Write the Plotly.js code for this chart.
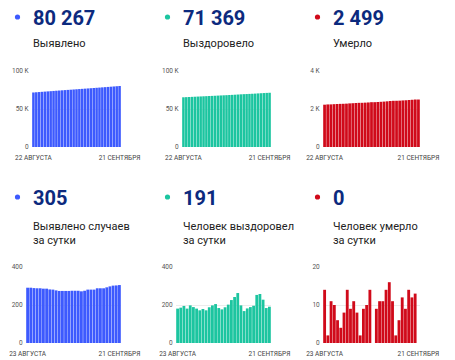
<!DOCTYPE html>
<html>
<head>
<meta charset="utf-8">
<script src="https://cdn.plot.ly/plotly-3.0.1.min.js"></script>
<style>html,body{margin:0;padding:0;background:#fff;}#chart{width:455px;height:360px;}</style>
</head>
<body>
<div id="chart"></div>
<script>
// ---- data ----
var datesTop = ["22 АВГУСТА","23 АВГУСТА","24 АВГУСТА","25 АВГУСТА","26 АВГУСТА","27 АВГУСТА","28 АВГУСТА","29 АВГУСТА","30 АВГУСТА","31 АВГУСТА",
  "1 СЕНТЯБРЯ","2 СЕНТЯБРЯ","3 СЕНТЯБРЯ","4 СЕНТЯБРЯ","5 СЕНТЯБРЯ","6 СЕНТЯБРЯ","7 СЕНТЯБРЯ","8 СЕНТЯБРЯ","9 СЕНТЯБРЯ","10 СЕНТЯБРЯ",
  "11 СЕНТЯБРЯ","12 СЕНТЯБРЯ","13 СЕНТЯБРЯ","14 СЕНТЯБРЯ","15 СЕНТЯБРЯ","16 СЕНТЯБРЯ","17 СЕНТЯБРЯ","18 СЕНТЯБРЯ","19 СЕНТЯБРЯ","20 СЕНТЯБРЯ","21 СЕНТЯБРЯ"];
var datesBottom = ["23 АВГУСТА","24 АВГУСТА","25 АВГУСТА","26 АВГУСТА","27 АВГУСТА","28 АВГУСТА","29 АВГУСТА","30 АВГУСТА","31 АВГУСТА",
  "1 СЕНТЯБРЯ","2 СЕНТЯБРЯ","3 СЕНТЯБРЯ","4 СЕНТЯБРЯ","5 СЕНТЯБРЯ","6 СЕНТЯБРЯ","7 СЕНТЯБРЯ","8 СЕНТЯБРЯ","9 СЕНТЯБРЯ","10 СЕНТЯБРЯ",
  "11 СЕНТЯБРЯ","12 СЕНТЯБРЯ","13 СЕНТЯБРЯ","14 СЕНТЯБРЯ","15 СЕНТЯБРЯ","16 СЕНТЯБРЯ","17 СЕНТЯБРЯ","18 СЕНТЯБРЯ","19 СЕНТЯБРЯ","20 СЕНТЯБРЯ","21 СЕНТЯБРЯ"];

var casesTotal = [71732,72023,72314,72603,72891,73179,73465,73751,74033,74314,74591,74865,75139,75413,75687,75962,
  76237,76512,76784,77059,77340,77621,77902,78190,78478,78766,79059,79357,79659,79962,80267];
var recoveredTotal = [65415,65596,65782,65977,66158,66356,66545,66726,66898,67077,67249,67437,67635,67840,68024,68201,
  68389,68591,68817,69059,69322,69520,69688,69870,70059,70255,70508,70766,70994,71178,71369];
var deathsTotal = [2227,2241,2243,2254,2264,2270,2274,2282,2296,2305,2316,2324,2326,2335,2345,2359,
  2359,2368,2379,2390,2404,2420,2431,2433,2439,2451,2460,2474,2486,2499,2499];

var casesDaily = [291,291,289,288,288,286,286,282,281,277,274,274,274,274,275,275,275,272,275,281,281,281,288,288,288,293,298,302,303,305];
var recoveredDaily = [181,186,195,181,198,189,181,172,179,172,188,198,205,184,177,188,202,226,242,263,198,168,182,189,196,253,258,228,184,191];
var deathsDaily = [14,2,11,10,6,4,8,14,9,11,8,2,9,10,14,0,9,11,11,14,16,11,2,6,12,9,14,12,13,0];

var headlines = ["80 267","71 369","2 499","305","191","0"];
var titles = ["Выявлено","Выздоровело","Умерло","Выявлено случаев<br>за сутки","Человек выздоровел<br>за сутки","Человек умерло<br>за сутки"];
var yTickVals = [[0,50000,100000],[0,50000,100000],[0,2000,4000],[0,200,400],[0,200,400],[0,10,20]];
var yTickText = [["0","50 K","100 K"],["0","50 K","100 K"],["0","2 K","4 K"],["0","200","400"],["0","200","400"],["0","10","20"]];

// ---- styling / layout ----
var W = 455, H = 360;
var BLUE = "#3d5afe", TEAL = "#1cc5a0", RED = "#d00a1a", NAVY = "#0c2a7e";
var colors = [BLUE, TEAL, RED, BLUE, TEAL, RED];
var series = [casesTotal, recoveredTotal, deathsTotal, casesDaily, recoveredDaily, deathsDaily];
var cats = [datesTop, datesTop, datesTop, datesBottom, datesBottom, datesBottom];
// plot rectangles in pixels [x0, x1, yTop, yBottom]
var rects = [[32,121,71,147],[182,271,71,147],[323,420,71,147],[26,121,267,343],[176,271,267,343],[323,420,267,343]];
var colX = [0,150,300,0,150,300];
var rowTop = [0,0,0,180,180,180];

function px(x){return x / W;}
function py(y){return 1 - y / H;}

var data = [], layout = {
  width: W, height: H,
  margin: {l:0, r:0, t:0, b:0},
  paper_bgcolor: "#fff", plot_bgcolor: "#fff",
  font: {family: "Roboto, sans-serif", color: "#333"},
  showlegend: false, bargap: 0.12,
  annotations: [], shapes: []
};

for (var i = 0; i < 6; i++) {
  var n = i === 0 ? "" : String(i + 1);
  var r = rects[i];
  var c = cats[i];
  data.push({
    type: "bar", x: c, y: series[i],
    xaxis: "x" + n, yaxis: "y" + n,
    marker: {color: colors[i], line: {width: 0}},
    hoverinfo: "skip"
  });
  layout["xaxis" + n] = {
    domain: [px(r[0]), px(r[1])], anchor: "y" + n,
    type: "category", range: [-0.5, c.length - 0.5],
    tickvals: [c[0], c[c.length - 1]], ticktext: [c[0], c[c.length - 1]],
    showgrid: false, zeroline: false, showline: false,
    ticks: "outside", ticklen: 4, tickcolor: "rgba(0,0,0,0)",
    tickangle: 0,
    tickfont: {size: 6.5, color: "#444", family: "Roboto, sans-serif"}
  };
  layout["yaxis" + n] = {
    domain: [py(r[3]), py(r[2])], anchor: "x" + n,
    range: [0, yTickVals[i][2]],
    tickvals: yTickVals[i], ticktext: yTickText[i],
    showgrid: true, gridcolor: "#ececec", gridwidth: 1,
    zeroline: false, showline: false,
    ticks: "outside", ticklen: 1, tickcolor: "rgba(0,0,0,0)",
    tickfont: {size: 6.5, color: "#555", family: "Roboto, sans-serif"}
  };
  var numY = rowTop[i] + 17.5;
  layout.annotations.push({
    xref: "paper", yref: "paper", x: px(colX[i] + 31), y: py(numY),
    xanchor: "left", yanchor: "middle", showarrow: false,
    text: "<b>" + headlines[i] + "</b>",
    font: {size: 20, color: NAVY, family: "Roboto, sans-serif"}
  });
  var titleY = i < 3 ? 43.5 : 233.5;
  layout.annotations.push({
    xref: "paper", yref: "paper", x: px(colX[i] + 31), y: py(titleY),
    xanchor: "left", yanchor: "middle", align: "left", showarrow: false,
    text: titles[i],
    font: {size: 11, color: "#222", family: "Roboto, sans-serif"}
  });
  var dx = colX[i] + 17.5, dy = rowTop[i] + 17;
  layout.shapes.push({
    type: "circle", xref: "paper", yref: "paper",
    x0: px(dx - 2.6), x1: px(dx + 2.6), y0: py(dy + 2.6), y1: py(dy - 2.6),
    fillcolor: colors[i], line: {width: 0}
  });
}

Plotly.newPlot("chart", data, layout, {staticPlot: true, displayModeBar: false});
</script>
</body>
</html>
